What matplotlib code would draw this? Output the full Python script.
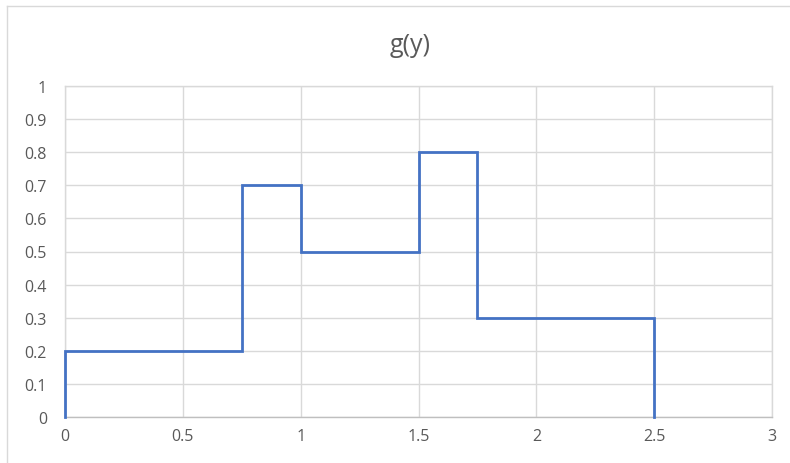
import matplotlib
matplotlib.use("Agg")
import matplotlib.pyplot as plt
from matplotlib.lines import Line2D

title = "g(y)"
x_vals = [0, 0, 0.75, 0.75, 1, 1, 1.5, 1.5, 1.75, 1.75, 2.5, 2.5]
y_vals = [0, 0.2, 0.2, 0.7, 0.7, 0.5, 0.5, 0.8, 0.8, 0.3, 0.3, 0]
x_ticks = [0, 0.5, 1, 1.5, 2, 2.5, 3]
x_tick_labels = ["0", "0.5", "1", "1.5", "2", "2.5", "3"]
y_ticks = [0, 0.1, 0.2, 0.3, 0.4, 0.5, 0.6, 0.7, 0.8, 0.9, 1]
y_tick_labels = ["0", "0.1", "0.2", "0.3", "0.4", "0.5", "0.6", "0.7", "0.8", "0.9", "1"]

plt.rcParams['font.family'] = ['Open Sans', 'DejaVu Sans']
W, H = 790, 464
fig = plt.figure(figsize=(W / 100, H / 100), dpi=100)
ax = fig.add_axes([65 / W, 1 - 418 / H, (772 - 65) / W, (418 - 87) / H])

ax.plot(x_vals, y_vals, color="#4472C4", lw=2.0, solid_joinstyle="miter", zorder=3, clip_on=False)
ax.set_xlim(0, 3)
ax.set_ylim(0, 1)
ax.set_xticks(x_ticks)
ax.set_xticklabels(x_tick_labels)
ax.set_yticks(y_ticks)
ax.set_yticklabels(y_tick_labels)
ax.grid(True, color="#D9D9D9", lw=1.0)
ax.set_axisbelow(True)
for s in ["top", "right", "left"]:
    ax.spines[s].set_color("#D9D9D9")
    ax.spines[s].set_linewidth(1.0)
ax.spines["bottom"].set_color("#BFBFBF")
ax.spines["bottom"].set_linewidth(1.0)
ax.tick_params(length=0, colors="#595959", labelsize=11.5)
ax.tick_params(axis="x", pad=8)
ax.tick_params(axis="y", pad=13)

fig.text(410 / W, 1 - 46 / H, title, ha="center", va="center", fontsize=18, color="#595959")

# chart border
fig.add_artist(Line2D([7 / W, 7 / W], [0, 1 - 7 / H], transform=fig.transFigure, color="#D9D9D9", lw=1.0))
fig.add_artist(Line2D([7 / W, 1], [1 - 7 / H, 1 - 7 / H], transform=fig.transFigure, color="#D9D9D9", lw=1.0))

fig.savefig("out.png", dpi=100)
